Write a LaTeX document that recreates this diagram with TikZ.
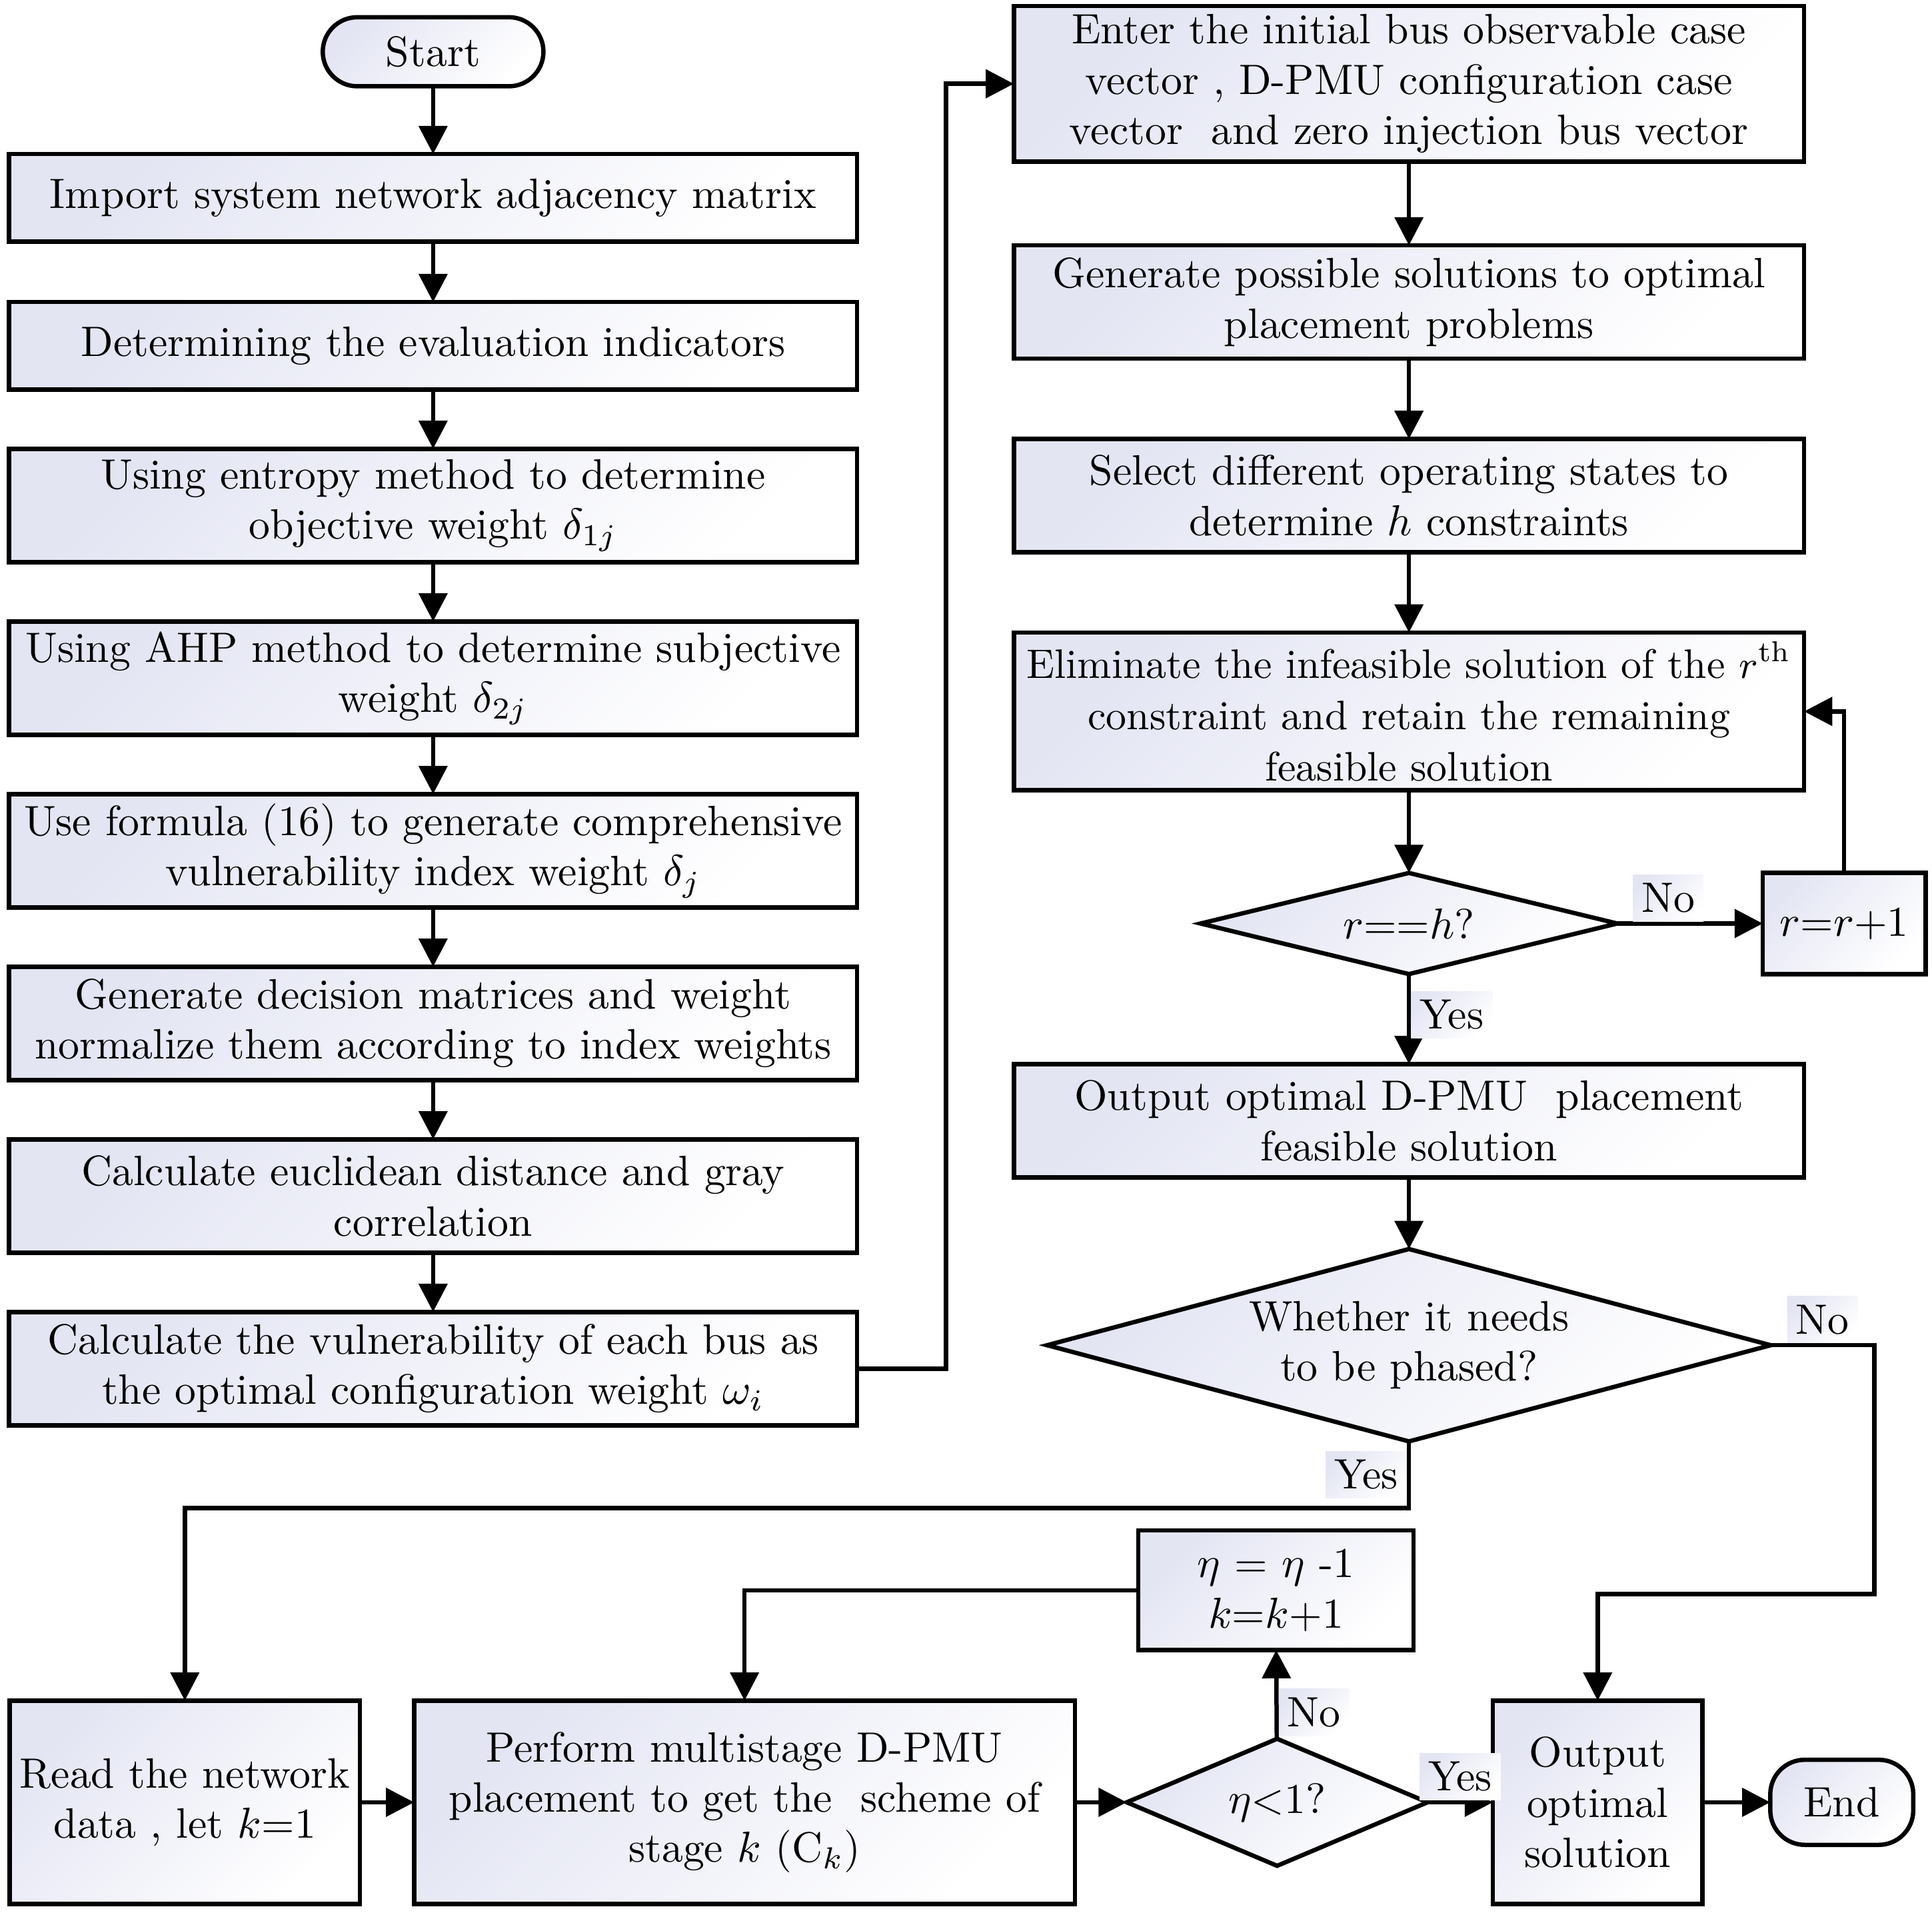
\documentclass[tikz,border=0pt]{standalone}
\usepackage{amsmath}
\usepackage{tikz}
\usepackage{xcolor}
\usetikzlibrary{arrows.meta,positioning,shapes.geometric}
\definecolor{Lavender}{HTML}{E3E5F3}

\begin{document}
\begin{tikzpicture}[x=0.01cm,y=-0.01cm,
  font=\fontsize{9.8}{11.6}\selectfont,
  tint/.style={top color=Lavender,bottom color=white,shading angle=45},
  term/.style={draw,line width=1pt,tint,outer sep=0pt,rounded corners=0.28cm,minimum width=1.79cm,minimum height=0.56cm,align=center},
  lbox/.style={draw,line width=1pt,tint,outer sep=0pt,minimum width=6.88cm,minimum height=0.92cm,align=center,inner sep=1pt},
  rbox/.style={draw,line width=1pt,tint,outer sep=0pt,minimum width=6.41cm,minimum height=0.92cm,align=center,inner sep=1pt},
  sbox/.style={draw,line width=1pt,tint,outer sep=0pt,align=center,inner sep=1pt},
  dec/.style={diamond,draw,line width=1pt,tint,outer sep=0pt,inner sep=0pt,align=center},
  lbl/.style={tint,inner sep=2pt},
  arrow/.style={-{Triangle[length=6.5pt,width=6.5pt]},line width=1pt}
]
\useasboundingbox (0,0) rectangle (1568,1552);
% left column
\node[term] (start) at (351.5,42) {Start};
\node[lbox,minimum height=0.71cm,below=0.55cm of start] (b1) {Import system network adjacency matrix};
\node[lbox,minimum height=0.71cm,below=0.49cm of b1] (b2) {Determining the evaluation indicators};
\node[lbox,below=0.48cm of b2] (b3) {Using entropy method to determine\\objective weight $\delta_{1j}$};
\node[lbox,below=0.48cm of b3] (b4) {Using AHP method to determine subjective\\weight $\delta_{2j}$};
\node[lbox,below=0.48cm of b4] (b5) {Use formula (16) to generate comprehensive\\vulnerability index weight $\delta_{j}$};
\node[lbox,below=0.48cm of b5] (b6) {Generate decision matrices and weight\\normalize them according to index weights};
\node[lbox,below=0.48cm of b6] (b7) {Calculate euclidean distance and gray\\correlation};
\node[lbox,below=0.48cm of b7] (b8) {Calculate the vulnerability of each bus as\\the optimal configuration weight $\omega_{i}$};
% right column
\node[rbox,minimum height=1.26cm] (r1) at (1143.5,68) {Enter the initial bus observable case\\vector , D-PMU configuration case\\vector \ and zero injection bus vector};
\node[rbox,below=0.68cm of r1] (r2) {Generate possible solutions to optimal\\placement problems};
\node[rbox,below=0.65cm of r2] (r3) {Select different operating states to\\determine $h$ constraints};
\node[rbox,minimum height=1.28cm,font=\fontsize{9.5}{11.8}\selectfont,below=0.65cm of r3] (r4) {Eliminate the infeasible solution of the $r^{\text{th}}$\\constraint and retain the remaining\\feasible solution};
\node[dec,aspect=4.1,minimum width=3.38cm,minimum height=0.82cm,below=0.67cm of r4] (d1) {$r$==$h$?};
\node[sbox,minimum width=1.32cm,minimum height=0.82cm,right=1.18cm of d1] (inc) {$r$=$r$+1};
\node[rbox,below=0.73cm of d1] (r5) {Output optimal D-PMU \ placement\\feasible solution};
\node[dec,aspect=3.76,minimum width=5.87cm,minimum height=1.56cm,below=0.58cm of r5] (d2) {Whether it needs\\to be phased?};
% bottom row
\node[sbox,minimum width=2.84cm,minimum height=1.65cm] (read) at (150,1462.5) {Read the network\\data , let $k$=1};
\node[sbox,minimum width=5.36cm,minimum height=1.65cm,right=0.44cm of read] (perf) {Perform multistage D-PMU\\placement to get the \ scheme of\\stage $k$ (C$_{k}$)};
\node[dec,aspect=2.37,minimum width=2.44cm,minimum height=1.03cm,right=0.42cm of perf] (d3) {$\eta$<1?};
\node[sbox,minimum width=2.23cm,minimum height=0.97cm] (step) at (1035.5,1290.5) {$\eta$ = $\eta$ -1\\$k$=$k$+1};
\node[sbox,minimum width=1.70cm,minimum height=1.65cm,right=0.53cm of d3] (out) {Output\\optimal\\solution};
\node[term,minimum width=1.16cm,minimum height=0.69cm,right=0.55cm of out] (end) {End};
% connectors
\draw[arrow] (start) -- (b1);
\draw[arrow] (b1) -- (b2);
\draw[arrow] (b2) -- (b3);
\draw[arrow] (b3) -- (b4);
\draw[arrow] (b4) -- (b5);
\draw[arrow] (b5) -- (b6);
\draw[arrow] (b6) -- (b7);
\draw[arrow] (b7) -- (b8);
\draw[arrow] (b8.east) -- ++(72,0) |- (r1.west);
\draw[arrow] (r1) -- (r2);
\draw[arrow] (r2) -- (r3);
\draw[arrow] (r3) -- (r4);
\draw[arrow] (r4) -- (d1);
\draw[arrow] (d1) -- node[lbl,above,pos=0.35] {No} (inc);
\draw[arrow] (inc.north) |- (r4.east);
\draw[arrow] (d1) -- node[lbl,right,pos=0.45] {Yes} (r5);
\draw[arrow] (r5) -- (d2);
\draw[arrow] (d2.south) -- node[lbl,left] {Yes} ++(0,54) -| (read.north);
\draw[arrow] (d2.east) -- node[lbl,above] {No} ++(84,0) -- ++(0,202) -| (out.north);
\draw[arrow] (read) -- (perf);
\draw[arrow] (perf) -- (d3);
\draw[arrow] (d3) -- node[lbl,right,pos=0.3] {No} (step);
\draw[arrow] (step.west) -| (perf.north);
\draw[arrow] (d3) -- node[lbl,above] {Yes} (out);
\draw[arrow] (out) -- (end);
\end{tikzpicture}
\end{document}
